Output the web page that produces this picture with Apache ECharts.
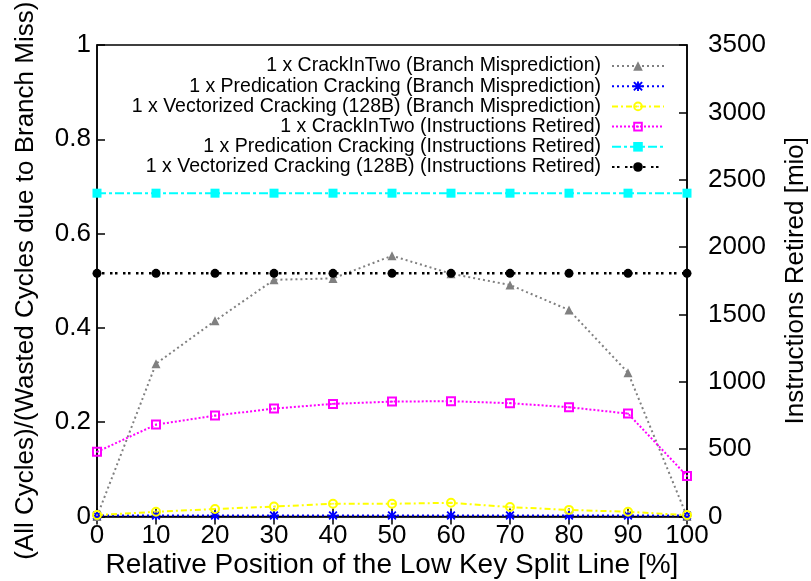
<!DOCTYPE html>
<html>
<head>
<meta charset="utf-8">
<script src="https://cdn.jsdelivr.net/npm/echarts@6/dist/echarts.min.js"></script>
<style>html,body{margin:0;padding:0;background:#fff}#c{width:811px;height:581px}</style>
</head>
<body>
<div id="c"></div>
<script>
var xValues = [0, 10, 20, 30, 40, 50, 60, 70, 80, 90, 100];
var crackInTwoBranch = [0, 0.324, 0.415, 0.502, 0.505, 0.553, 0.515, 0.491, 0.438, 0.305, 0];
var predicationBranch = [0.002, 0.002, 0.002, 0.002, 0.002, 0.002, 0.002, 0.002, 0.002, 0.002, 0.002];
var vectorizedBranch = [0.003, 0.010, 0.016, 0.021, 0.027, 0.027, 0.029, 0.020, 0.014, 0.010, 0.003];
var crackInTwoInstr = [480, 682, 749, 801, 836, 853, 856, 841, 811, 764, 301];
var predicationInstr = [2400, 2400, 2400, 2400, 2400, 2400, 2400, 2400, 2400, 2400, 2400];
var vectorizedInstr = [1805, 1805, 1805, 1805, 1805, 1805, 1805, 1805, 1805, 1805, 1805];
var seriesNames = [
  "1 x CrackInTwo (Branch Misprediction)",
  "1 x Predication Cracking (Branch Misprediction)",
  "1 x Vectorized Cracking (128B) (Branch Misprediction)",
  "1 x CrackInTwo (Instructions Retired)",
  "1 x Predication Cracking (Instructions Retired)",
  "1 x Vectorized Cracking (128B) (Instructions Retired)"
];
var xTitle = "Relative Position of the Low Key Split Line [%]";
var yTitle = "(All Cycles)/(Wasted Cycles due to Branch Miss)";
var y2Title = "Instructions Retired [mio]";

function pairs(vals) { return xValues.map(function (x, i) { return [x, vals[i]]; }); }

var FONT = "'Liberation Sans', Arial, sans-serif";
var asterisk = 'path://M4,0H6V4H10V6H6V10H4V6H0V4H4Z M0,1.4L1.4,0L5,3.6L8.6,0L10,1.4L6.4,5L10,8.6L8.6,10L5,6.4L1.4,10L0,8.6L3.6,5Z';
var dotSquare = 'path://M0,0H10V10H0Z M2,2V8H8V2Z M4.1,4.1H5.9V5.9H4.1Z';
var dotCircle = 'path://M5,0A5,5 0 1,1 5,10A5,5 0 1,1 5,0Z M5,2A3,3 0 1,0 5,8A3,3 0 1,0 5,2Z M5,4.1A0.9,0.9 0 1,1 5,5.9A0.9,0.9 0 1,1 5,4.1Z';

function mk(name, data, yIdx, color, dash, width, symbol, size) {
  return {
    name: name, type: 'line', data: pairs(data), yAxisIndex: yIdx,
    symbol: symbol, symbolSize: size,
    lineStyle: { color: color, width: width, type: dash, cap: 'butt' },
    itemStyle: { color: color, borderColor: color, borderWidth: 0 },
    emphasis: { disabled: true },
    animation: false
  };
}

var chart = echarts.init(document.getElementById('c'), null, { renderer: 'canvas' });
chart.setOption({
  animation: false,
  backgroundColor: '#fff',
  textStyle: { fontFamily: FONT, color: '#000' },
  grid: {
    left: 97, right: 124, top: 45, bottom: 64.5,
    show: true, borderColor: '#000', borderWidth: 1.5, containLabel: false,
    outerBoundsMode: 'none'
  },
  legend: {
    orient: 'vertical', align: 'right', right: 141, top: 51,
    itemWidth: 52, itemHeight: 12, itemGap: 0.2,
    textStyle: { fontFamily: FONT, fontSize: 19.5, color: '#000', lineHeight: 20, padding: [0, 6, 0, 0] },
    selectedMode: false,
    data: seriesNames
  },
  xAxis: [{
    type: 'value', min: 0, max: 100, interval: 10, position: 'bottom',
    name: xTitle, nameLocation: 'middle', nameGap: 35, nameMoveOverlap: false,
    nameTextStyle: { fontFamily: FONT, fontSize: 28, color: '#000' },
    axisLine: { show: true, onZero: false, lineStyle: { color: '#000', width: 1.5 } },
    axisTick: { show: true, inside: true, length: 8, lineStyle: { color: '#000', width: 1.5 } },
    axisLabel: { fontFamily: FONT, fontSize: 26, color: '#000', margin: 6 },
    splitLine: { show: false }
  }, {
    type: 'value', min: 0, max: 100, interval: 10, position: 'top',
    axisLine: { show: false },
    axisTick: { show: true, inside: true, length: 8, lineStyle: { color: '#000', width: 1.5 } },
    axisLabel: { show: false },
    splitLine: { show: false }
  }],
  yAxis: [{
    type: 'value', min: 0, max: 1, interval: 0.2, position: 'left',
    name: yTitle, nameLocation: 'middle', nameGap: 58, nameRotate: 90, nameMoveOverlap: false,
    nameTextStyle: { fontFamily: FONT, fontSize: 26, color: '#000' },
    axisLine: { show: true, onZero: false, lineStyle: { color: '#000', width: 1.5 } },
    axisTick: { show: true, inside: true, length: 8, lineStyle: { color: '#000', width: 1.5 } },
    axisLabel: { fontFamily: FONT, fontSize: 26, color: '#000', margin: 6 },
    splitLine: { show: false }
  }, {
    type: 'value', min: 0, max: 3500, interval: 500, position: 'right',
    name: y2Title, nameLocation: 'middle', nameGap: 96, nameRotate: 90, nameMoveOverlap: false,
    nameTextStyle: { fontFamily: FONT, fontSize: 26, color: '#000' },
    axisLine: { show: true, onZero: false, lineStyle: { color: '#000', width: 1.5 } },
    axisTick: { show: true, inside: true, length: 8, lineStyle: { color: '#000', width: 1.5 } },
    axisLabel: { fontFamily: FONT, fontSize: 26, color: '#000', margin: 21, formatter: function (v) { return String(v); } },
    splitLine: { show: false }
  }],
  series: [
    mk(seriesNames[0], crackInTwoBranch, 0, '#808080', [2, 3], 2, 'triangle', 9),
    mk(seriesNames[1], predicationBranch, 0, '#0000ff', [2, 3], 2, asterisk, 9),
    mk(seriesNames[2], vectorizedBranch, 0, '#ffff00', [6, 3, 2, 3], 2, dotCircle, 10),
    mk(seriesNames[3], crackInTwoInstr, 1, '#ff00ff', [2, 2], 2, dotSquare, 10),
    mk(seriesNames[4], predicationInstr, 1, '#00ffff', [9, 3, 3, 3], 2, 'rect', 9),
    mk(seriesNames[5], vectorizedInstr, 1, '#000000', [2.5, 2.5, 2.5, 5.5], 2.5, 'circle', 9)
  ]
});
</script>
</body>
</html>
